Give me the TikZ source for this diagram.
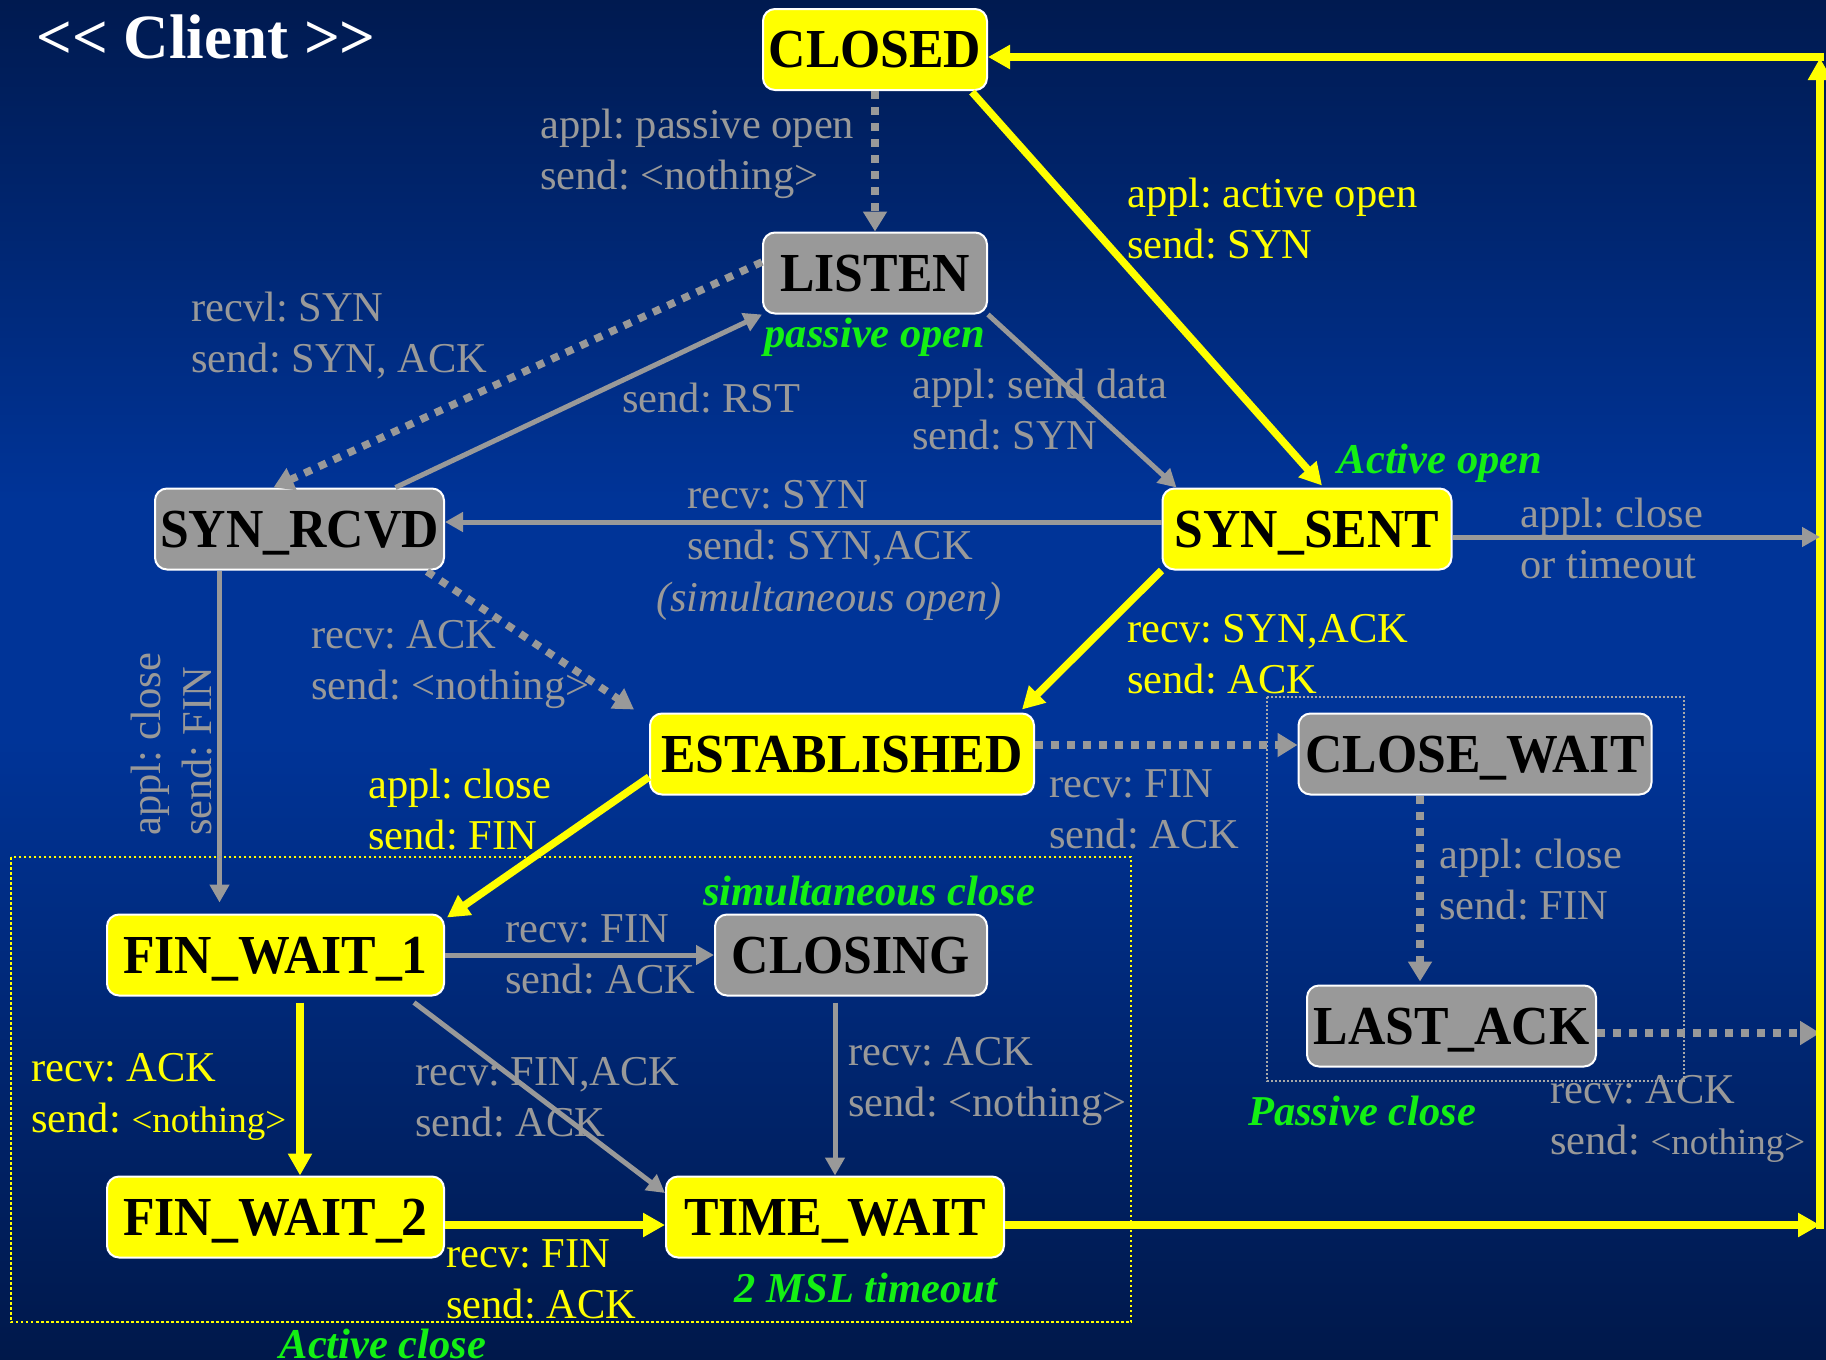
\documentclass[tikz,border=0pt]{standalone}
\usepackage{fontspec}
\setmainfont{Liberation Serif}
\newfontfamily\statefont{Liberation Serif}[FakeStretch=0.94]
\usetikzlibrary{arrows.meta,calc}
\frenchspacing

\definecolor{bgtop}{RGB}{0,26,80}
\definecolor{bgmid}{RGB}{0,52,152}
\definecolor{bgbot}{RGB}{0,24,74}
\definecolor{yel}{RGB}{255,255,0}
\definecolor{gry}{RGB}{153,153,153}
\definecolor{grn}{RGB}{20,240,20}

\newcommand{\smallnothing}{{\fontsize{37}{51}\selectfont <nothing>}}

\begin{document}
\begin{tikzpicture}[x=1pt,y=-1pt,
  state/.style={draw=white, line width=2pt, rounded corners=12pt, inner sep=0pt,
    font=\statefont\fontsize{55}{60}\selectfont\bfseries, text=black,
    text height=36pt, text depth=0pt, minimum height=81pt},
  ystate/.style={state, fill=yel},
  gstate/.style={state, fill=gry},
  lbl/.style={font=\fontsize{42.5}{51}\selectfont, align=left, inner sep=0pt, anchor=west},
  glbl/.style={lbl, text=gry},
  ylbl/.style={lbl, text=yel},
  tag/.style={font=\fontsize{42.5}{51}\selectfont\bfseries\itshape, text=grn, inner sep=0pt},
  yarr/.style={draw=yel, line width=7.5pt, -{Triangle[length=22pt,width=23pt]}},
  garr/.style={draw=gry, line width=5pt, -{Triangle[length=18pt,width=19pt]}},
  gdot/.style={draw=gry, line width=7.5pt, dash pattern=on 8pt off 8pt, -{Triangle[length=20pt,width=23pt]}},
]
% backdrop: dark navy at top and bottom, brighter blue across the middle
\useasboundingbox (0,0) rectangle (1826,1360);
\shade[top color=bgtop, bottom color=bgmid] (0,0) rectangle (1826,501);
\fill[bgmid] (0,500) rectangle (1826,741);
\shade[top color=bgmid, bottom color=bgbot] (0,740) rectangle (1826,1360);

% grouping frames
\draw[yel, line width=2.5pt, dash pattern=on 2.5pt off 2.5pt] (11,857) rectangle (1131,1322);
\draw[gry!85!white, line width=2pt, dash pattern=on 2pt off 2pt] (1267,697) rectangle (1684,1081);

% title
\node[font=\fontsize{63}{70}\selectfont\bfseries, text=white, inner sep=0pt] (title) at (206,37) {<{}< Client >{}>};

% states
\node[ystate, minimum width=224pt] (CLOSED) at (875,49.5) {CLOSED};
\node[gstate, minimum width=224pt] (LISTEN) at (875,273) {LISTEN};
\node[gstate, minimum width=289pt] (SYNRCVD) at (299.5,529) {SYN\_RCVD};
\node[ystate, minimum width=289pt] (SYNSENT) at (1307,529) {SYN\_SENT};
\node[ystate, minimum width=384pt] (EST) at (842,754) {ESTABLISHED};
\node[gstate, minimum width=353pt] (CLOSEWAIT) at (1475,754) {CLOSE\_WAIT};
\node[ystate, minimum width=337pt] (FW1) at (275.5,955) {FIN\_WAIT\_1};
\node[gstate, minimum width=272pt] (CLOSING) at (851,955) {CLOSING};
\node[gstate, minimum width=289pt] (LASTACK) at (1451.5,1026) {LAST\_ACK};
\node[ystate, minimum width=337pt] (FW2) at (275.5,1217) {FIN\_WAIT\_2};
\node[ystate, minimum width=338pt] (TW) at (835,1217) {TIME\_WAIT};

% points on the return rail at the right edge
\coordinate (rTop) at (1820,57);
\coordinate (rSS) at (1820,537);
\coordinate (rLA) at (1820,1033);
\coordinate (rTW) at (1820,1225);

% transitions
\draw[gdot] (CLOSED.south) -- (LISTEN.north);
\draw[yarr] ($(CLOSED.south east)+(-16,1)$) -- ($(SYNSENT.north)+(15,-2)$);
\draw[gdot] ($(LISTEN.west)+(0,-11)$) -- ($(SYNRCVD.north)+(-26,0)$);
\draw[garr] ($(SYNRCVD.north)+(96,0)$) -- (LISTEN.south west);
\draw[garr] (LISTEN.south east) -- ($(SYNSENT.north west)+(15,0)$);
\draw[garr] ($(SYNSENT.west)+(0,-7)$) -- ($(SYNRCVD.east)+(0,-7)$);
\draw[gdot] ($(SYNRCVD.south east)+(-18,1)$) -- ($(EST.north west)+(-15,-3)$);
\draw[yarr] (SYNSENT.south west) -- ($(EST.north east)+(-13,-3)$);
\draw[garr] ($(SYNRCVD.south)+(-80,0)$) -- ($(FW1.north)+(-56,-11)$);
\draw[yarr] ($(EST.west)+(0,23)$) -- ($(FW1.north east)+(2,4)$);
\draw[gdot] ($(EST.east)+(0,-9)$) -- ($(CLOSEWAIT.west)+(0,-9)$);
\draw[gdot] ($(CLOSEWAIT.south)+(-55,0)$) -- ($(LASTACK.north)+(-31.5,-3)$);
\draw[gdot] ($(LASTACK.east)+(0,7)$) -- (rLA);
\draw[garr] (FW1.east) -- (CLOSING.west);
\draw[garr] ($(FW1.south east)+(-31,6)$) -- ($(TW.west)+(0,-24)$);
\draw[garr] ($(CLOSING.south)+(-16,6)$) -- (TW.north);
\draw[yarr] ($(FW1.south)+(24.5,6)$) -- ($(FW2.north)+(24.5,0)$);
\draw[yarr] ($(FW2.east)+(0,8)$) -- ($(TW.west)+(0,8)$);
\draw[yarr] ($(TW.east)+(0,8)$) -- (rTW);
\draw[yarr] ($(rTW)+(0,4)$) -- ($(rTop)+(0,1)$);
\draw[yarr] ($(rTop)+(4,0)$) -- ($(CLOSED.east)+(0,7.5)$);
\draw[garr] ($(SYNSENT.east)+(0,8)$) -- (rSS);

% transition labels
\node[glbl] (l1) at (540,154) {appl: passive open\\send: <nothing>};
\node[ylbl] (l2) at (1127,219) {appl: active open\\send: SYN};
\node[glbl] (l3) at (191,336) {recvl: SYN\\send: SYN, ACK};
\node[glbl] (l4) at (622,398) {send: RST};
\node[glbl] (l5) at (912,410) {appl: send data\\send: SYN};
\node[glbl] (l6) at (687,523) {recv: SYN\\send: SYN,ACK};
\node[lbl, anchor=center, text=gry, font=\fontsize{42.5}{51}\selectfont\itshape] (l6b) at (829,601) {(simultaneous open)};
\node[glbl] (l7) at (311,665) {recv: ACK\\send: <nothing>};
\node[ylbl] (l8) at (1127,654) {recv: SYN,ACK\\send: ACK};
\node[glbl, rotate=90] (l9) at (172,836) {appl: close\\send: FIN};
\node[ylbl] (l10) at (368,810) {appl: close\\send: FIN};
\node[glbl] (l11) at (1049,809) {recv: FIN\\send: ACK};
\node[glbl] (l12) at (1439,880) {appl: close\\send: FIN};
\node[glbl] (l13) at (1550,1119) {recv: ACK\\send: \smallnothing};
\node[glbl] (l14) at (505,954) {recv: FIN\\send: ACK};
\node[glbl] (l15) at (415,1097) {recv: FIN,ACK\\send: ACK};
\node[glbl] (l16) at (848,1082) {recv: ACK\\send: <nothing>};
\node[ylbl] (l17) at (31,1097) {recv: ACK\\send: \smallnothing};
\node[ylbl] (l18) at (446,1279) {recv: FIN\\send: ACK};
\node[glbl] (l19) at (1520,538) {appl: close\\or timeout};

% phase tags
\node[tag] (t1) at (875,337) {passive open};
\node[tag] (t2) at (1440,463) {Active open};
\node[tag] (t3) at (869,891) {simultaneous close};
\node[tag] (t4) at (1362,1111) {Passive close};
\node[tag] (t5) at (866,1288) {2 MSL timeout};
\node[tag] (t6) at (383,1344) {Active close};
\end{tikzpicture}
\end{document}
